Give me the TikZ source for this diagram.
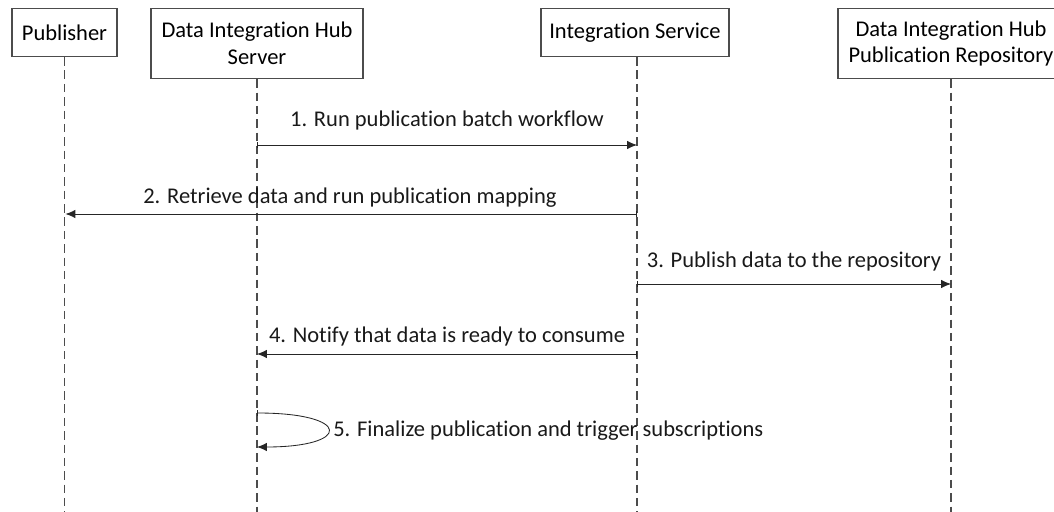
\documentclass[tikz,border=0pt]{standalone}
\usepackage{fontspec}
\setmainfont{Carlito}[Ligatures=NoCommon]
\usetikzlibrary{arrows.meta}

\begin{document}
\begin{tikzpicture}[x=0.025cm, y=-0.025cm,
    font=\fontsize{16}{19}\selectfont,
    actor/.style={draw=black!70, line width=0.9pt, align=center, inner sep=0pt},
    life/.style={draw=black!70, line width=0.8pt, dash pattern=on 6pt off 3.5pt},
    msg/.style={draw=black!85, line width=0.6pt, {Bar[width=4pt]}-{Latex[length=7pt,width=6pt]}},
    lbl/.style={text=black!90, inner sep=0pt}]
    \useasboundingbox (0,0) rectangle (1054,512);
    % participants
    \node[actor, minimum width=2.625cm, minimum height=1.2cm]  (pub) at (64.5,32.5) {Publisher};
    \node[actor, minimum width=5.3cm,   minimum height=1.75cm] (srv) at (257,43.5)  {Data Integration Hub\\Server};
    \node[actor, minimum width=4.7cm,   minimum height=1.2cm]  (svc) at (635,32.5)  {Integration Service};
    \node[actor, minimum width=5.65cm,  minimum height=1.75cm] (rep) at (951,43.5)  {Data Integration Hub\\Publication Repository};
    % lifelines
    \coordinate (bottom) at (0,512);
    \draw[life] (pub.south) -- (pub.south |- bottom);
    \draw[life] (srv.south) -- (srv.south |- bottom);
    \draw[life] ([xshift=0.05cm]svc.south) -- ([xshift=0.05cm]svc.south |- bottom);
    \draw[life] (rep.south) -- (rep.south |- bottom);
    % message levels
    \coordinate (m1) at (0,145);
    \coordinate (m2) at (0,214);
    \coordinate (m3) at (0,284);
    \coordinate (m4) at (0,354);
    \coordinate (m5a) at (0,413);
    \coordinate (m5b) at (0,447);
    \coordinate (svx) at (637,0);
    % messages
    \draw[msg] (srv |- m1) -- (svx |- m1);
    \node[lbl] (l1) at (447,121) {1. Run publication batch workflow};
    \draw[msg] (svx |- m2) -- ([xshift=0.025cm]pub |- m2);
    \node[lbl] (l2) at (350,198) {2. Retrieve data and run publication mapping};
    \draw[msg] (svx |- m3) -- (rep |- m3);
    \node[lbl] (l3) at (794,262) {3. Publish data to the repository};
    \draw[msg] (svx |- m4) -- (srv |- m4);
    \node[lbl] (l4) at (447,337) {4. Notify that data is ready to consume};
    \draw[msg] (srv |- m5a) .. controls (352,413) and (352,447) .. (srv |- m5b);
    \node[lbl, anchor=west] (l5) at (333,431) {5. Finalize publication and trigger subscriptions};
\end{tikzpicture}
\end{document}
